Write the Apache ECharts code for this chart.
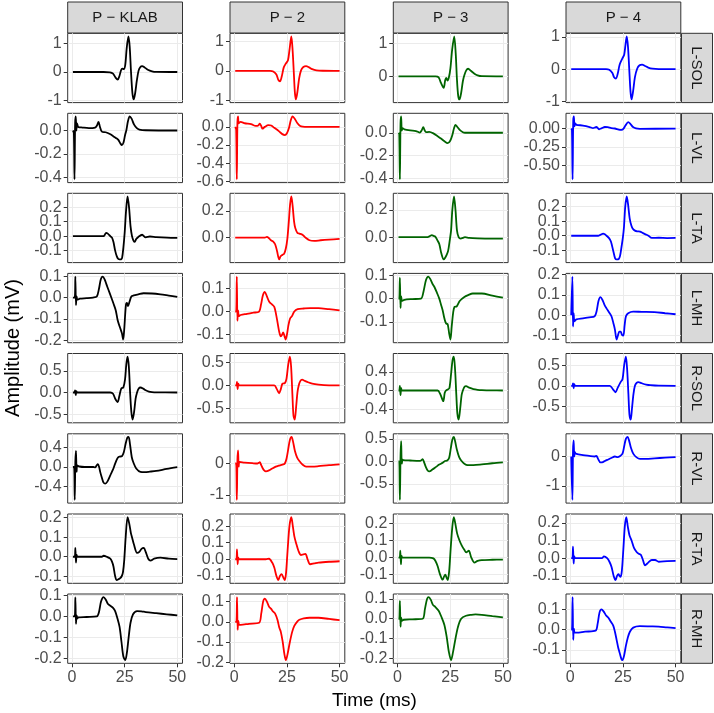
<!DOCTYPE html>
<html>
<head>
<meta charset="utf-8">
<script src="https://cdn.jsdelivr.net/npm/echarts@6/dist/echarts.min.js"></script>
<style>
  html, body { margin: 0; padding: 0; background: #fff; }
  #main { width: 714px; height: 713px; }
</style>
</head>
<body>
<div id="main"></div>
<script>
// facets: columns = subjects, rows = muscles
var subjects = ['P \u2212 KLAB', 'P \u2212 2', 'P \u2212 3', 'P \u2212 4'];
var muscles = ['L-SOL', 'L-VL', 'L-TA', 'L-MH', 'R-SOL', 'R-VL', 'R-TA', 'R-MH'];
var subjectColors = ['#000000', '#FF0000', '#006400', '#0000FF'];
var xTicks = [0, 25, 50];

// y tick labels per panel [row][col]
var yTickLabels = [
  [['-1','0','1'], ['-1','0','1'], ['0','1'], ['-1','0','1']],
  [['-0.4','-0.2','0.0'], ['-0.6','-0.4','-0.2','0.0'], ['-0.4','-0.2','0.0'], ['-0.50','-0.25','0.00']],
  [['-0.1','0.0','0.1','0.2'], ['0.0','0.2'], ['0.0','0.2'], ['-0.1','0.0','0.1','0.2']],
  [['-0.2','-0.1','0.0','0.1'], ['-0.1','0.0','0.1'], ['-0.1','0.0','0.1'], ['-0.1','0.0','0.1','0.2']],
  [['-0.5','0.0','0.5'], ['-0.5','0.0','0.5'], ['-0.4','0.0','0.4'], ['-0.5','0.0','0.5']],
  [['-0.4','0.0','0.4'], ['-1','0'], ['-0.5','0.0','0.5'], ['-1','0']],
  [['-0.1','0.0','0.1','0.2'], ['-0.1','0.0','0.1','0.2'], ['-0.1','0.0','0.1','0.2'], ['-0.1','0.0','0.1','0.2']],
  [['-0.2','-0.1','0.0','0.1'], ['-0.2','-0.1','0.0','0.1'], ['-0.2','-0.1','0.0','0.1'], ['-0.1','0.0','0.1']]
];

// [time (ms), amplitude (mV)]
var LSOL_KLAB = [[0.45,0],[15,0],[18,-0.01],[19.5,-0.06],[20.7,-0.2],[21.7,-0.27],[22.5,-0.15],[23.3,0.06],[23.9,0.12],[24.6,0.1],[25.3,0.25],[26,0.85],[26.8,1.254],[27.4,0.9],[28,0.05],[28.7,-0.75],[29.3,-0.969],[30,-0.75],[30.8,-0.3],[31.6,0.04],[32.4,0.17],[33.3,0.21],[34.5,0.16],[36,0.08],[38,0.025],[40,0.005],[50,0]];
var LSOL_P2 = [[0.45,0],[17,0],[18.5,-0.02],[20,-0.12],[20.9,-0.3],[21.7,-0.35],[22.5,-0.2],[23.5,0.12],[24.5,0.25],[25.5,0.36],[26.2,0.7],[27.1,1.164],[27.7,0.7],[28.3,-0.1],[28.8,-0.75],[29.3,-0.964],[30,-0.7],[30.8,-0.25],[31.7,0.02],[32.8,0.13],[34.1,0.16],[35.5,0.12],[37,0.06],[39,0.02],[42,0.005],[50,0]];
var LSOL_P3 = [[0.45,0],[18,0],[19.5,-0.03],[20.6,-0.2],[21.9,-0.35],[22.6,-0.12],[23.1,-0.05],[23.7,-0.13],[24.4,-0.02],[25.1,0.25],[25.9,0.8],[26.9,1.214],[27.6,0.7],[28.2,-0.1],[28.8,-0.6],[29.4,-0.704],[30.2,-0.5],[31,-0.15],[31.7,0.03],[32.6,0.18],[33.5,0.23],[34.8,0.17],[36.5,0.08],[38,0.03],[40,0.005],[50,0]];
var LSOL_P4 = [[0.45,0],[17,0],[18.5,-0.02],[20,-0.12],[20.8,-0.25],[21.7,-0.29],[22.5,-0.15],[23.5,0.15],[24.8,0.34],[25.6,0.45],[26.2,0.75],[26.8,1.017],[27.4,0.7],[28,0],[28.6,-0.7],[29.1,-0.942],[29.8,-0.7],[30.7,-0.25],[31.8,0.02],[32.9,0.12],[34.1,0.14],[35.5,0.1],[37,0.05],[39,0.015],[42,0],[50,0]];

var LVL_KLAB = [[0.45,0],[0.9,-0.02],[1.2,-0.415],[1.5,0.06],[1.8,0.119],[2.1,0],[2.4,0.06],[3,0.03],[5,0.025],[8,0.02],[11,0.025],[11.8,0.04],[12.6,0.073],[13.3,0.03],[14.2,-0.01],[16,-0.015],[18,-0.03],[19.7,-0.05],[21,-0.065],[22,-0.08],[23,-0.11],[23.7,-0.124],[24.5,-0.1],[25.2,-0.04],[25.8,0],[26.6,0.08],[27.4,0.119],[28.3,0.1],[29.5,0.05],[30.8,0.02],[32,0.008],[35,0.002],[50,0]];
var LVL_P2 = [[0.45,0],[0.9,-0.03],[1.2,-0.58],[1.5,0.05],[1.8,0.115],[2.1,0.04],[3,0.055],[5,0.04],[8,0.03],[10.2,0.01],[11.4,0.015],[12.1,0.035],[12.8,0.01],[13.4,-0.02],[14.5,0],[16.2,0.02],[17.5,0.015],[19,-0.01],[21.3,-0.05],[22.8,-0.08],[24,-0.09],[25,-0.07],[26,-0.01],[26.8,0.07],[27.7,0.115],[28.7,0.09],[30,0.04],[31.3,0.01],[32.5,0.002],[35,0],[50,0]];
var LVL_P3 = [[0.45,0],[0.8,-0.01],[1.1,-0.4075],[1.4,0.08],[1.7,0.1425],[2,0.02],[2.4,0.04],[3.2,0.03],[6,0.02],[8.7,0.015],[10.6,0.002],[11.4,0.02],[12.2,0.048],[12.9,0.02],[13.5,0.005],[15,0.008],[17,-0.005],[19,-0.03],[20.6,-0.05],[22.3,-0.075],[23.8,-0.09],[25,-0.07],[26,-0.02],[26.8,0.04],[27.5,0.069],[28.4,0.05],[29.5,0.025],[31,0.005],[32,0],[50,0]];
var LVL_P4 = [[0.45,0],[0.8,-0.02],[1.1,-0.6875],[1.4,0.1],[1.7,0.1625],[2,0.03],[2.4,0.07],[2.9,0.05],[6,0.04],[9.2,0.02],[10.8,0.005],[11.6,0.012],[12.4,0.02],[13.1,0.005],[13.7,-0.01],[15,0.005],[16.4,0.02],[17.8,0.018],[19.5,0.005],[21.2,0],[23,-0.015],[24.3,-0.018],[25.2,-0.005],[26.2,0.04],[27.5,0.085],[28.6,0.06],[29.8,0.02],[31.2,0.002],[33,-0.004],[50,-0.003]];

var LTA_KLAB = [[0.45,0],[15,0],[15.6,0.01],[16.2,0.023],[17,0.018],[18.2,0],[19,-0.01],[19.7,-0.04],[20.5,-0.1],[21.3,-0.14],[22,-0.158],[22.6,-0.161],[23.3,-0.16],[23.8,-0.15],[24.4,-0.08],[25,0.02],[25.7,0.18],[26.4,0.275],[27.1,0.2],[27.8,0.07],[28.5,0],[29.2,-0.03],[29.8,-0.04],[30.5,-0.02],[31.5,-0.005],[33.3,0.01],[35,-0.008],[37,-0.002],[40,-0.006],[45,-0.01],[50,-0.012]];
var LTA_P2 = [[0.45,0],[14.5,0],[15.5,0.005],[16.5,-0.005],[17.4,-0.02],[18.5,-0.03],[19.4,-0.05],[20.3,-0.1],[21.3,-0.164],[22,-0.14],[22.8,-0.13],[23.7,-0.12],[24.5,-0.08],[25.2,-0.01],[25.9,0.12],[26.5,0.25],[27.1,0.309],[27.7,0.24],[28.4,0.12],[29,0.07],[30,0.035],[30.9,0.03],[32.5,0.02],[33.8,0],[35.7,-0.02],[38,-0.025],[41,-0.02],[45,-0.015],[50,-0.01]];
var LTA_P3 = [[0.45,0],[14.3,0],[15.3,0.008],[16.3,0.015],[17.1,0.01],[17.9,0.005],[18.8,-0.02],[19.8,-0.05],[20.8,-0.12],[21.9,-0.163],[22.6,-0.15],[23.3,-0.13],[24,-0.1],[24.7,-0.03],[25.4,0.05],[26,0.2],[26.8,0.299],[27.5,0.2],[28.2,0.05],[29,0],[30,-0.01],[31,-0.005],[32,0],[34,-0.005],[38,-0.008],[44,-0.01],[50,-0.01]];
var LTA_P4 = [[0.45,0],[13.2,0],[14.5,0.008],[15.6,0.015],[16.4,0.01],[17.2,0],[18.3,-0.015],[19.3,-0.04],[20.5,-0.11],[21.3,-0.155],[22,-0.163],[23,-0.16],[23.6,-0.14],[24.3,-0.08],[25,-0.01],[25.5,0.06],[26.1,0.2],[26.8,0.27],[27.4,0.22],[28.2,0.12],[29,0.07],[29.6,0.05],[30.7,0.035],[32,0.03],[33.1,0.028],[34.5,0.018],[36,0.008],[37.1,0],[38.7,-0.015],[42,-0.014],[46,-0.016],[50,-0.015]];

var LMH_KLAB = [[0.45,0],[1.3,0],[1.6,0.098],[1.9,-0.035],[2.2,0.005],[2.6,-0.01],[3.8,-0.005],[7,-0.003],[10,0],[11.8,0.005],[12.8,0.04],[13.7,0.085],[14.6,0.098],[15.5,0.085],[16.5,0.058],[17.4,0.034],[18.5,0.005],[19.7,-0.028],[20.8,-0.06],[21.7,-0.106],[22.8,-0.14],[23.7,-0.166],[24.3,-0.196],[24.8,-0.15],[25.6,-0.036],[26.1,-0.025],[26.6,-0.04],[27.3,-0.02],[28.2,0.005],[29.3,0.01],[31.5,0.015],[34,0.02],[38,0.019],[42,0.015],[46,0.009],[50,0.003]];
var LMH_P2 = [[0.45,0],[0.9,0],[1.2,0.151],[1.5,-0.04],[1.8,0.005],[2.2,-0.02],[3,-0.015],[6,-0.01],[9,-0.005],[11.8,0],[12.7,0.03],[13.6,0.07],[14.5,0.085],[15.5,0.065],[16.6,0.042],[18,0.03],[19,0.02],[19.8,-0.01],[20.6,-0.05],[21.4,-0.09],[22.1,-0.107],[22.7,-0.1],[23.2,-0.09],[23.8,-0.105],[24.4,-0.121],[25,-0.1],[25.7,-0.06],[26.5,-0.03],[27.4,-0.02],[28.5,0],[30.1,0.01],[33,0.013],[36,0.015],[40,0.015],[45,0.01],[50,0.005]];
var LMH_P3 = [[0.45,0],[0.8,0],[1.1,0.09],[1.4,-0.04],[1.7,0.01],[2.1,-0.01],[3.2,-0.005],[7,-0.002],[11.1,0],[12.3,0.03],[13.5,0.08],[14.6,0.095],[15.5,0.085],[16.5,0.065],[17.5,0.05],[18.7,0.025],[19.8,0],[20.6,-0.025],[21.4,-0.05],[22.1,-0.08],[22.7,-0.1],[23.2,-0.108],[23.8,-0.11],[24.5,-0.15],[25.1,-0.176],[25.7,-0.12],[26.4,-0.06],[27,-0.036],[28.1,-0.033],[29.5,-0.01],[31.7,0.007],[33.5,0.015],[35.7,0.022],[40,0.022],[45,0.013],[50,0.004]];
var LMH_P4 = [[0.45,0],[0.7,0],[1.0,0.19],[1.3,-0.055],[1.6,0.01],[2.0,-0.03],[2.9,-0.02],[6,-0.015],[9,-0.01],[11.6,-0.005],[12.5,0.02],[13.4,0.07],[14.3,0.089],[15.3,0.075],[16.3,0.05],[17.2,0.034],[18.4,0.015],[19.6,-0.006],[20.5,-0.04],[21.2,-0.07],[22,-0.119],[22.6,-0.1],[23.3,-0.08],[23.9,-0.08],[24.5,-0.095],[25.2,-0.1],[25.8,-0.05],[26.4,-0.006],[27.5,0.01],[29.9,0.018],[34,0.017],[40,0.016],[45,0.01],[50,0.005]];

var RSOL_KLAB = [[0.45,0],[1.2,0],[1.5,0.05],[1.8,-0.06],[2.1,0.03],[2.5,0],[18.2,0],[19.5,-0.03],[20.6,-0.15],[21.7,-0.22],[22.5,-0.08],[23.4,0.09],[24.4,0.12],[25.2,0.3],[25.8,0.65],[26.4,0.827],[27,0.6],[27.6,0],[28.2,-0.45],[28.8,-0.627],[29.5,-0.45],[30.2,-0.15],[30.9,0],[31.7,0.09],[32.5,0.115],[33.8,0.09],[35,0.05],[36.5,0.02],[38,0.008],[40,0.002],[50,0]];
var RSOL_P2 = [[0.45,0],[1,0],[1.3,0.08],[1.6,-0.08],[1.9,0.04],[2.3,0],[19,0],[20.2,-0.08],[21.3,-0.17],[22.1,-0.08],[22.9,0.04],[24,0.05],[24.8,0.15],[25.6,0.45],[26.4,0.627],[27,0.4],[27.6,-0.2],[28.1,-0.65],[28.7,-0.744],[29.4,-0.45],[30,-0.15],[30.6,0],[31.4,0.1],[32.2,0.125],[33.5,0.1],[35,0.07],[37,0.04],[40,0.02],[45,0.003],[50,0]];
var RSOL_P3 = [[0.45,0],[0.8,0],[1.1,0.1],[1.4,-0.1],[1.7,0.05],[2.1,0],[19,0],[20.3,-0.08],[21.7,-0.23],[22.4,-0.05],[23,0],[23.8,0.02],[24.6,0.05],[25.4,0.35],[26.1,0.65],[26.7,0.727],[27.3,0.45],[27.9,-0.1],[28.4,-0.5],[29,-0.626],[29.7,-0.4],[30.4,-0.1],[31,0],[31.8,0.08],[32.5,0.093],[34,0.06],[36,0.03],[38,0.015],[40,0.008],[45,0.002],[50,0]];
var RSOL_P4 = [[0.45,0],[1,0],[1.3,0.06],[1.6,-0.06],[1.9,0.04],[2.3,0],[18.8,0],[20.2,-0.08],[21.5,-0.156],[22.5,-0.05],[23.9,0.09],[24.8,0.16],[25.6,0.5],[26.4,0.707],[27,0.4],[27.6,-0.2],[28.1,-0.7],[28.7,-0.821],[29.3,-0.55],[30,-0.2],[30.7,0],[31.5,0.07],[32.3,0.09],[33.5,0.07],[34.5,0.05],[36,0.03],[38,0.015],[42,0.002],[50,0]];

var RVL_KLAB = [[0.45,0],[1.0,0],[1.3,-0.675],[1.6,0.1],[1.9,0.33],[2.2,-0.1],[2.5,0.03],[3.5,0.01],[6,0],[10.2,0],[11,-0.01],[11.7,0.03],[12.3,0.06],[12.9,0],[13.4,-0.1],[14.2,-0.22],[15,-0.32],[15.8,-0.34],[16.8,-0.3],[18.2,-0.17],[19.5,-0.05],[20.5,0.07],[21.5,0.17],[22.3,0.21],[23.7,0.22],[24.6,0.3],[25.5,0.48],[26.3,0.6],[26.9,0.615],[27.6,0.45],[28.4,0.2],[29.3,0.076],[30.5,-0.03],[32.5,-0.1],[34.5,-0.105],[37,-0.095],[40,-0.08],[45,-0.04],[50,-0.005]];
var RVL_P2 = [[0.45,0],[0.9,0],[1.2,-1.164],[1.5,0.1],[1.8,0.42],[2.1,-0.1],[2.5,0.05],[5,0.03],[8.6,0.01],[11,0],[11.6,0.02],[12.1,0.04],[12.8,-0.05],[13.5,-0.15],[14.2,-0.22],[15,-0.25],[16.5,-0.22],[18,-0.16],[19.7,-0.1],[21,-0.07],[22.1,-0.05],[23.2,-0.03],[24,0],[24.8,0.15],[25.6,0.45],[26.4,0.75],[27.2,0.849],[27.9,0.7],[28.8,0.4],[29.8,0.2],[30.9,0.08],[32.5,-0.04],[34.1,-0.1],[37,-0.1],[40,-0.085],[45,-0.05],[50,-0.025]];
var RVL_P3 = [[0.45,0],[0.8,0],[1.1,-0.85],[1.4,0.1],[1.7,0.45],[2,-0.05],[2.4,0.04],[2.7,0.03],[6,0.02],[10.3,0.01],[11.1,0.02],[11.9,0.05],[12.6,-0.02],[13.4,-0.12],[14.3,-0.2],[15.1,-0.22],[16.5,-0.18],[18.3,-0.12],[19.8,-0.07],[21.4,-0.03],[22.5,0.01],[23.6,0.02],[24.5,0.08],[25.3,0.3],[26,0.48],[26.7,0.54],[27.3,0.45],[28.2,0.25],[29.2,0.1],[30.2,0.02],[31.7,-0.05],[33.3,-0.08],[36,-0.08],[40,-0.065],[45,-0.04],[50,-0.02]];
var RVL_P4 = [[0.45,0],[0.7,0],[1.0,-1.48],[1.3,0.2],[1.6,0.55],[1.9,0],[2.2,0.15],[2.5,0.1],[4,0.07],[6,0.05],[9,0.02],[11.6,0],[12.4,0.02],[13.2,-0.08],[14.3,-0.2],[15.5,-0.19],[17,-0.13],[18,-0.1],[19.5,-0.05],[21.2,0],[22.5,-0.02],[23.5,0.01],[24.8,0.1],[25.6,0.35],[26.4,0.6],[27.2,0.667],[27.9,0.55],[28.8,0.3],[29.9,0.1],[31.5,-0.03],[33.1,-0.08],[36,-0.08],[40,-0.06],[45,-0.04],[50,-0.02]];

var RTA_KLAB = [[0.45,0],[1.3,0],[1.6,0.045],[1.9,-0.03],[2.2,0.01],[2.6,0],[14.2,0],[15,0.005],[16.5,0],[18.2,-0.01],[19,-0.025],[19.7,-0.05],[20.5,-0.1],[21.3,-0.12],[22.1,-0.115],[22.9,-0.11],[23.6,-0.1],[24.2,-0.08],[24.8,-0.02],[25.5,0.1],[26.4,0.203],[27.2,0.17],[28,0.12],[28.5,0.1],[29.5,0.06],[30.9,0.02],[32,0.025],[33,0.04],[34.1,0.045],[35,0.025],[36.2,-0.01],[37.3,-0.02],[39,-0.01],[42,-0.005],[46,-0.01],[50,-0.012]];
var RTA_P2 = [[0.45,0],[1,0],[1.3,0.06],[1.6,-0.03],[1.9,0.01],[2.3,0],[15,0],[16.5,0.003],[18,-0.02],[19,-0.05],[20,-0.1],[20.9,-0.126],[21.7,-0.1],[22.5,-0.09],[23.3,-0.11],[24,-0.126],[24.6,-0.08],[25.3,0.05],[26.2,0.2],[27.1,0.254],[27.8,0.2],[28.5,0.14],[29.3,0.1],[30.5,0.05],[31.7,0.025],[32.8,0.03],[33.8,0.032],[34.8,0],[36,-0.03],[38,-0.025],[40,-0.02],[45,-0.015],[50,-0.012]];
var RTA_P3 = [[0.45,0],[1,0],[1.3,0.04],[1.6,-0.04],[1.9,0.01],[2.3,0],[15,0],[17,-0.005],[18,-0.02],[19,-0.05],[20.2,-0.1],[21.4,-0.13],[22.1,-0.11],[22.7,-0.1],[23.3,-0.12],[23.8,-0.1325],[24.5,-0.08],[25.2,0.05],[26,0.18],[26.7,0.2365],[27.4,0.2],[28.3,0.14],[29.4,0.1],[30.5,0.07],[31.7,0.045],[32.6,0.03],[33.8,0.04],[35,0],[36.5,-0.03],[38,-0.02],[40,-0.015],[45,-0.013],[50,-0.012]];
var RTA_P4 = [[0.45,0],[1,0],[1.3,0.065],[1.6,-0.03],[1.9,0.01],[2.3,0],[15,0],[16,0.01],[17.5,0],[18.6,-0.02],[19.6,-0.05],[20.6,-0.1],[21.5,-0.124],[22.2,-0.1],[22.9,-0.09],[23.4,-0.1],[23.9,-0.105],[24.5,-0.07],[25.2,0.05],[25.9,0.18],[26.6,0.232],[27.3,0.18],[28.1,0.13],[29.1,0.1],[30.2,0.06],[31.5,0.035],[32.5,0.025],[33.5,0.02],[34.5,-0.01],[35.5,-0.04],[37,-0.025],[38.7,-0.01],[40.3,-0.01],[42,-0.02],[46,-0.016],[50,-0.015]];

var RMH_KLAB = [[0.45,0],[1.3,0],[1.6,0.09],[1.9,-0.035],[2.2,0.005],[2.6,-0.01],[3,-0.005],[7,-0.003],[11.8,0],[12.8,0.02],[13.8,0.07],[15,0.091],[16,0.08],[17,0.06],[18.2,0.05],[19.5,0.04],[20.5,0.025],[21.6,-0.01],[22.6,-0.05],[23.5,-0.12],[24.4,-0.19],[25.3,-0.207],[26.1,-0.17],[26.9,-0.1],[27.8,-0.03],[29,0.01],[30.9,0.025],[33,0.024],[35,0.02],[40,0.015],[45,0.01],[50,0.005]];
var RMH_P2 = [[0.45,0],[1,0],[1.3,0.122],[1.6,-0.04],[1.9,0.005],[2.3,-0.015],[3,-0.015],[7,-0.01],[11.8,-0.005],[12.8,0.04],[13.7,0.1],[14.5,0.115],[15.5,0.1],[16.5,0.075],[17.4,0.065],[18.5,0.05],[19.4,0.04],[20.5,0.01],[21.4,-0.03],[22.1,-0.05],[23,-0.1],[23.8,-0.16],[24.5,-0.19],[25.3,-0.16],[26.4,-0.1],[27.5,-0.05],[28.5,-0.02],[30,0.002],[30.9,0.01],[33,0.017],[35.7,0.02],[40,0.02],[45,0.014],[50,0.008]];
var RMH_P3 = [[0.45,0],[0.8,0],[1.1,0.09],[1.4,-0.04],[1.7,0.005],[2.1,-0.01],[3,-0.005],[7,-0.003],[11.9,0],[13,0.05],[14,0.1],[14.8,0.109],[15.8,0.095],[16.8,0.07],[17.9,0.06],[19.5,0.04],[20.8,0.01],[22.2,-0.03],[23.3,-0.09],[24.4,-0.17],[25.4,-0.209],[26.3,-0.17],[27.5,-0.1],[28.7,-0.04],[30.2,0],[32.5,0.015],[35,0.02],[37,0.022],[40,0.02],[45,0.013],[50,0.007]];
var RMH_P4 = [[0.45,0],[0.8,0],[1.1,0.16],[1.4,-0.05],[1.7,0.005],[2.1,-0.015],[3,-0.015],[7,-0.01],[12,-0.005],[13,0.03],[13.9,0.085],[14.8,0.1],[15.8,0.09],[17,0.07],[18,0.06],[19.2,0.04],[20.4,0.02],[21.2,-0.01],[22,-0.05],[22.8,-0.09],[23.6,-0.12],[24.3,-0.145],[24.8,-0.15],[25.5,-0.13],[26.4,-0.08],[27.3,-0.04],[28.3,-0.01],[29.9,0.01],[33,0.017],[38,0.016],[42,0.015],[46,0.011],[50,0.008]];

var traces = [
  [LSOL_KLAB, LSOL_P2, LSOL_P3, LSOL_P4],
  [LVL_KLAB, LVL_P2, LVL_P3, LVL_P4],
  [LTA_KLAB, LTA_P2, LTA_P3, LTA_P4],
  [LMH_KLAB, LMH_P2, LMH_P3, LMH_P4],
  [RSOL_KLAB, RSOL_P2, RSOL_P3, RSOL_P4],
  [RVL_KLAB, RVL_P2, RVL_P3, RVL_P4],
  [RTA_KLAB, RTA_P2, RTA_P3, RTA_P4],
  [RMH_KLAB, RMH_P2, RMH_P3, RMH_P4]
];

// panel layout (px)
var colLeft = [67.7, 230, 393.3, 566];
var rowTop = [33.3, 113.3, 193.3, 273.4, 353.5, 433.8, 514, 594];
var panelW = 114.8, panelH = 69.3;
var FONT = '"Liberation Sans", Arial, sans-serif';

// ggplot style 5% expansion of the data range
function expand(arr, idx) {
  var lo = Infinity, hi = -Infinity;
  arr.forEach(function (p) { lo = Math.min(lo, p[idx]); hi = Math.max(hi, p[idx]); });
  var pad = (hi - lo) * 0.05;
  return [lo - pad, hi + pad];
}

// one y axis per half of the ticks, so echarts never drops a close label
function yAxisFor(k, yr, vals, labs) {
  return {
    type: 'value', gridIndex: k, min: yr[0], max: yr[1], position: 'left',
    axisLine: { show: false, onZero: false },
    axisTick: { show: true, customValues: vals, length: 4, lineStyle: { color: '#333333' } },
    axisLabel: {
      show: true, customValues: vals, color: '#4D4D4D', fontSize: 16,
      fontFamily: FONT, margin: 6, showMinLabel: true, showMaxLabel: true,
      formatter: function (v) {
        for (var i = 0; i < vals.length; i++) {
          if (Math.abs(vals[i] - v) < 1e-9) return labs[i];
        }
        return '';
      }
    },
    splitLine: { show: true, lineStyle: { color: '#EBEBEB', width: 1 } }
  };
}

var grids = [], xAxes = [], yAxes = [], series = [], graphics = [];

for (var r = 0; r < muscles.length; r++) {
  for (var c = 0; c < subjects.length; c++) {
    var k = grids.length;
    var data = traces[r][c];
    var xr = expand(data, 0), yr = expand(data, 1);
    var labels = yTickLabels[r][c];
    var evenV = [], evenL = [], oddV = [], oddL = [];
    labels.forEach(function (l, i) {
      if (i % 2 === 0) { evenV.push(Number(l)); evenL.push(l); }
      else { oddV.push(Number(l)); oddL.push(l); }
    });
    var bottom = (r === muscles.length - 1);

    grids.push({
      left: colLeft[c], top: rowTop[r], width: panelW, height: panelH,
      show: true, backgroundColor: '#fff', borderColor: '#333333', borderWidth: 1
    });
    xAxes.push({
      type: 'value', gridIndex: k, min: xr[0], max: xr[1], position: 'bottom',
      axisLine: { show: false, onZero: false },
      axisTick: { show: bottom, customValues: xTicks, length: 4, lineStyle: { color: '#333333' } },
      axisLabel: {
        show: bottom, customValues: xTicks, color: '#4D4D4D', fontSize: 16, fontFamily: FONT, margin: 6,
        showMinLabel: true, showMaxLabel: true
      },
      splitLine: { show: true, lineStyle: { color: '#EBEBEB', width: 1 } }
    });
    var yMain = yAxes.length;
    yAxes.push(yAxisFor(k, yr, evenV, evenL));
    if (oddV.length) yAxes.push(yAxisFor(k, yr, oddV, oddL));

    series.push({
      type: 'line', xAxisIndex: k, yAxisIndex: yMain, data: data,
      showSymbol: false, smooth: 0.3,
      lineStyle: { color: subjectColors[c], width: 1.8 },
      silent: true
    });
  }
}

// top strips
subjects.forEach(function (s, c) {
  graphics.push({
    type: 'rect', shape: { x: colLeft[c], y: 2, width: panelW, height: 31 },
    style: { fill: '#D9D9D9', stroke: '#333333', lineWidth: 1 }
  });
  graphics.push({
    type: 'text', x: colLeft[c] + panelW / 2, y: 17.5,
    style: { text: s, fill: '#1A1A1A', fontSize: 15, fontFamily: FONT, textAlign: 'center', textVerticalAlign: 'middle' }
  });
});

// right strips
muscles.forEach(function (m, r) {
  graphics.push({
    type: 'rect', shape: { x: 681.5, y: rowTop[r], width: 31, height: panelH },
    style: { fill: '#D9D9D9', stroke: '#333333', lineWidth: 1 }
  });
  graphics.push({
    type: 'text', x: 696, y: rowTop[r] + panelH / 2, rotation: -Math.PI / 2,
    style: { text: m, fill: '#1A1A1A', fontSize: 15, fontFamily: FONT, textAlign: 'center', textVerticalAlign: 'middle' }
  });
});

// axis titles
graphics.push({
  type: 'text', x: 13.5, y: 348, rotation: Math.PI / 2,
  style: { text: 'Amplitude (mV)', fill: '#000', fontSize: 20, fontFamily: FONT, textAlign: 'center', textVerticalAlign: 'middle' }
});
graphics.push({
  type: 'text', x: 374.5, y: 701,
  style: { text: 'Time (ms)', fill: '#000', fontSize: 19, fontFamily: FONT, textAlign: 'center', textVerticalAlign: 'middle' }
});

var myChart = echarts.init(document.getElementById('main'), null, { renderer: 'canvas' });
myChart.setOption({
  backgroundColor: '#fff',
  animation: false,
  grid: grids,
  xAxis: xAxes,
  yAxis: yAxes,
  series: series,
  graphic: graphics
});
</script>
</body>
</html>
